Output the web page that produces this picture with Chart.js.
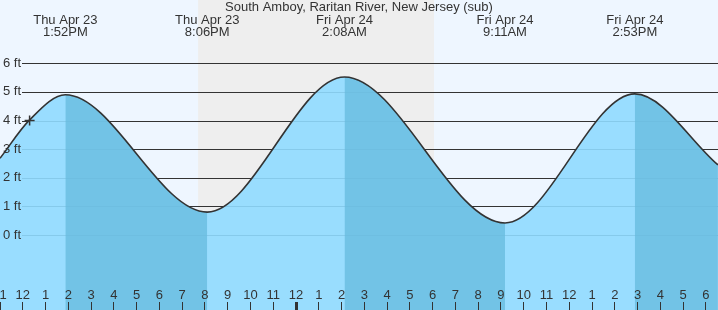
<!DOCTYPE html>
<html>
<head>
<meta charset="utf-8">
<script src="https://cdn.jsdelivr.net/npm/chart.js@4.4.1/dist/chart.umd.min.js"></script>
<style>
  html, body { margin: 0; padding: 0; background: #eef6ff; }
  #wrap { width: 718px; height: 310px; }
</style>
</head>
<body>
<div id="wrap"><canvas id="tide" width="718" height="310"></canvas></div>
<script>
// Hours are counted from Thu Apr 23, 12:00 noon
const stationName = 'South Amboy, Raritan River, New Jersey (sub)';

// Tide curve (edges + highs/lows)
const tideHours   = [-1.0, 0.30, 1.87, 8.10, 14.13, 21.18, 26.88, 30.53];
const tideHeights = [2.68, 4.02, 4.90, 0.80, 5.52, 0.42, 4.93, 2.45];

// High / low labels along the top
const eventHours  = [1.87, 8.10, 14.13, 21.18, 26.88];
const eventLabels = [
    ['Thu Apr 23', '1:52PM'],
    ['Thu Apr 23', '8:06PM'],
    ['Fri Apr 24', '2:08AM'],
    ['Fri Apr 24', '9:11AM'],
    ['Fri Apr 24', '2:53PM']
];

// Hour ticks along the bottom
const hourTicks  = [-1, 0, 1, 2, 3, 4, 5, 6, 7, 8, 9, 10, 11, 12, 13, 14, 15,
                    16, 17, 18, 19, 20, 21, 22, 23, 24, 25, 26, 27, 28, 29, 30];
const hourLabels = ['11', '12', '1', '2', '3', '4', '5', '6', '7', '8', '9', '10', '11', '12', '1', '2', '3',
                    '4', '5', '6', '7', '8', '9', '10', '11', '12', '1', '2', '3', '4', '5', '6'];

const heightTicks = [0, 1, 2, 3, 4, 5, 6];

// Sunset Thu / sunrise Fri
const nightSpan = [7.70, 18.06];

// "now" marker
const nowPoint = [0.30, 4.0];

const Y_MIN = -2.621;
const Y_MAX = 6.813;

const FONT = 'Liberation Sans, Arial, sans-serif';
const LIGHT = 'rgba(143, 218, 255, 0.9)';
const DARK  = 'rgba(102, 185, 222, 0.75)';
const CLEAR = 'rgba(0, 0, 0, 0)';

Chart.defaults.font.family = FONT;
Chart.defaults.font.size = 13;
Chart.defaults.color = '#333';

// day / night background and the ft lines (under the water fill)
const skyPlugin = {
    id: 'sky',
    beforeDraw(chart) {
        const { ctx, width, height, chartArea, scales: { x, y } } = chart;
        ctx.save();
        ctx.fillStyle = '#eef6ff';
        ctx.fillRect(0, 0, width, height);
        const x0 = x.getPixelForValue(nightSpan[0]);
        const x1 = x.getPixelForValue(nightSpan[1]);
        ctx.fillStyle = '#eeeeee';
        ctx.fillRect(x0, 0, x1 - x0, height);

        ctx.strokeStyle = '#333';
        ctx.lineWidth = 1;
        heightTicks.forEach(v => {
            const py = Math.round(y.getPixelForValue(v)) + 0.5;
            ctx.beginPath();
            ctx.moveTo(22, py);
            ctx.lineTo(chartArea.right, py);
            ctx.stroke();
        });
        ctx.restore();
    }
};

const tidePoints = tideHours.map((h, i) => ({ x: h, y: tideHeights[i] }));

new Chart(document.getElementById('tide'), {
    type: 'line',
    data: {
        datasets: [{
            // now marker
            data: [{ x: nowPoint[0], y: nowPoint[1] }],
            showLine: false,
            pointStyle: 'cross',
            pointRadius: 5,
            pointBorderColor: '#333',
            pointBorderWidth: 1.5,
            fill: false,
            order: 0
        }, {
            // falling tide shading
            data: tidePoints,
            borderColor: CLEAR,
            borderWidth: 0,
            pointRadius: 0,
            cubicInterpolationMode: 'monotone',
            fill: 'start',
            backgroundColor: CLEAR,
            segment: {
                backgroundColor: c => c.p1.parsed.y < c.p0.parsed.y ? DARK : CLEAR
            },
            order: 1
        }, {
            // tide curve + water
            data: tidePoints,
            borderColor: '#333',
            borderWidth: 1.6,
            pointRadius: 0,
            cubicInterpolationMode: 'monotone',
            fill: 'start',
            backgroundColor: LIGHT,
            order: 2
        }]
    },
    options: {
        responsive: false,
        animation: false,
        devicePixelRatio: 1,
        layout: { padding: 0, autoPadding: false },
        plugins: {
            legend: { display: false },
            tooltip: { enabled: false },
            filler: { drawTime: 'beforeDatasetsDraw' }
        },
        scales: {
            x: {
                type: 'linear',
                position: { y: Y_MIN },
                min: -1,
                max: 30.533,
                afterBuildTicks: s => { s.ticks = hourTicks.map(v => ({ value: v })); },
                afterFit: s => { s.paddingLeft = 0; s.paddingRight = 0; },
                grid: {
                    drawOnChartArea: false,
                    drawTicks: true,
                    tickLength: -8,
                    color: '#333',
                    lineWidth: c => (c.tick && c.tick.value === 12) ? 3 : 1,
                    z: 1
                },
                border: { display: false },
                ticks: {
                    z: 1,
                    padding: -14,
                    autoSkip: false,
                    maxRotation: 0,
                    color: '#333',
                    callback: (v, i) => hourLabels[i]
                }
            },
            x2: {
                type: 'linear',
                position: 'top',
                min: -1,
                max: 30.533,
                afterBuildTicks: s => { s.ticks = eventHours.map(v => ({ value: v })); },
                afterFit: s => { s.height = 40; s.paddingLeft = 0; s.paddingRight = 0; },
                grid: { display: false, drawTicks: false },
                border: { display: false },
                title: {
                    display: true,
                    text: stationName,
                    color: '#333',
                    padding: 0
                },
                ticks: {
                    padding: 2,
                    autoSkip: false,
                    maxRotation: 0,
                    color: '#333',
                    font: { size: 13, lineHeight: '12px' },
                    callback: (v, i) => eventLabels[i]
                }
            },
            y: {
                min: Y_MIN,
                max: Y_MAX,
                afterBuildTicks: s => { s.ticks = heightTicks.map(v => ({ value: v })); },
                afterFit: s => { s.width = 0; s.paddingTop = 0; s.paddingBottom = 0; },
                grid: { display: false, drawTicks: false },
                border: { display: false },
                ticks: {
                    mirror: true,
                    padding: 3,
                    z: 1,
                    color: '#333',
                    callback: v => v + ' ft'
                }
            }
        }
    },
    plugins: [skyPlugin]
});
</script>
</body>
</html>
